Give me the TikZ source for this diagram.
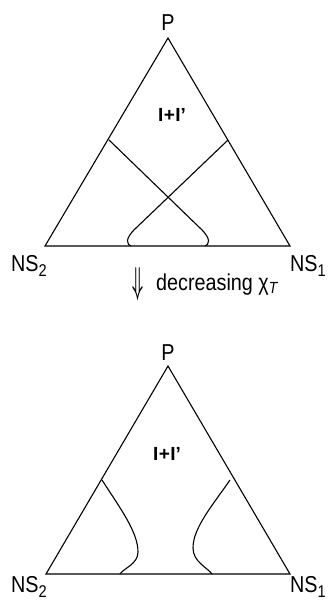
\documentclass[tikz,border=0pt]{standalone}
\usepackage{fontspec}
\setmainfont{Liberation Sans}
\newcommand{\narrow}[1]{\scalebox{0.86}[1]{#1}}
\newcommand{\lowsub}[1]{\raisebox{-5.5pt}{\fontsize{17}{19}\selectfont #1}}
\tikzset{
  lbl/.style={inner sep=0pt, font=\fontsize{23}{25}\selectfont},
  mixlbl/.style={inner sep=0pt, font=\fontsize{19}{21}\selectfont\bfseries},
  edge/.style={line width=1.1pt, line join=miter},
  phase/.style={line width=1.1pt}
}
\begin{document}
\begin{tikzpicture}[x=1pt, y=-1pt]
        \useasboundingbox (0,0) rectangle (333,600);
        % upper diagram
        \coordinate (P) at (168,38);
        \coordinate (NStwo) at (45,246);
        \coordinate (NSone) at (290,246);
        \node[lbl, anchor=base] (Plbl) at (168,30) {\narrow{P}};
        \node[lbl, anchor=base west] (NStwolbl) at (11,271) {\narrow{NS\lowsub{2}}};
        \node[lbl, anchor=base west] (NSonelbl) at (290,271) {\narrow{NS\lowsub{1}}};
        \node[mixlbl, anchor=base] (mix) at (172,121) {I\kern0.5pt+\kern0.5pt I'};
        \draw[edge] (P) -- (NStwo) -- (NSone) -- cycle;
        \coordinate (a1) at (109,140);
        \coordinate (a2) at (200,228);
        \coordinate (a3) at (205,246);
        \coordinate (b1) at (228,140);
        \coordinate (b2) at (136,228);
        \coordinate (b3) at (131,246);
        \draw[phase] (a1) -- (a2) .. controls (212,239) and (209,245) .. (a3);
        \draw[phase] (b1) -- (b2) .. controls (124,239) and (127,245) .. (b3);
        % arrow
        \node[lbl, anchor=center] (arr) at (138,284) {\resizebox{11pt}{26pt}{\boldmath$\Downarrow$}};
        \node[lbl, anchor=base west] (dec) at (156,290) {\narrow{decreasing χ\textsubscript{\textit{T}}}};
        % lower diagram
        \coordinate (P2) at (168,366);
        \coordinate (NStwo2) at (46,574);
        \coordinate (NSone2) at (290,574);
        \node[lbl, anchor=base] (Plbl2) at (168,360) {\narrow{P}};
        \node[lbl, anchor=base west] (NStwolbl2) at (11,592) {\narrow{NS\lowsub{2}}};
        \node[lbl, anchor=base west] (NSonelbl2) at (290,592) {\narrow{NS\lowsub{1}}};
        \node[mixlbl, anchor=base] (mix2) at (167,460) {I\kern0.5pt+\kern0.5pt I'};
        \draw[edge] (P2) -- (NStwo2) -- (NSone2) -- cycle;
        \coordinate (c1) at (102,480);
        \coordinate (c2) at (138,552);
        \coordinate (c3) at (120,574);
        \coordinate (d1) at (230,480);
        \coordinate (d2) at (193,548);
        \coordinate (d3) at (212,574);
        \draw[phase] (c1) .. controls (120,508) and (138,532) .. (c2) .. controls (138,564) and (124,568) .. (c3);
        \draw[phase] (d1) .. controls (212,506) and (193,528) .. (d2) .. controls (193,562) and (208,568) .. (d3);
      \end{tikzpicture}
\end{document}
